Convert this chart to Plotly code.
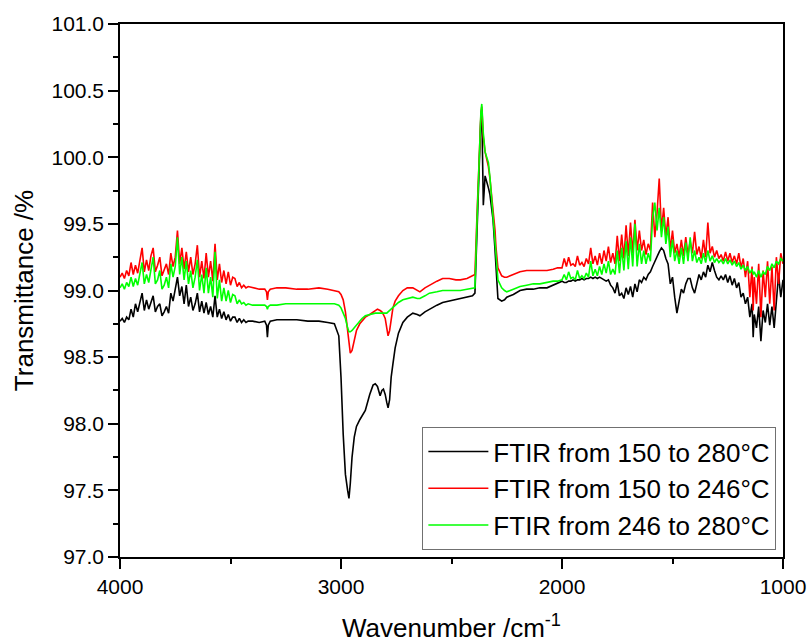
import plotly.graph_objects as go

# Wavenumber grid (cm^-1), shared by the three spectra
WN = [
    4000, 3990, 3980, 3970, 3960, 3950, 3940, 3930, 3920, 3910,
    3900, 3890, 3880, 3870, 3860, 3850, 3840, 3830, 3820, 3810,
    3800, 3790, 3780, 3770, 3760, 3750, 3740, 3730, 3720, 3710,
    3700, 3690, 3680, 3670, 3660, 3650, 3640, 3630, 3620, 3610,
    3600, 3590, 3580, 3570, 3560, 3550, 3540, 3530, 3520, 3510,
    3500, 3490, 3480, 3470, 3460, 3450, 3440, 3430, 3420,
    3400, 3370, 3345, 3337, 3333, 3329, 3320, 3290, 3250, 3200,
    3150, 3100, 3060, 3030,
    3010, 3000, 2990, 2980, 2970, 2964, 2958, 2950, 2940, 2930,
    2915, 2905, 2890, 2870, 2855, 2845, 2835, 2823, 2815, 2808,
    2800, 2793, 2787, 2780, 2773, 2765, 2755, 2740, 2720, 2700,
    2675, 2655, 2643, 2620, 2600, 2566, 2540, 2510, 2480, 2460,
    2430, 2405, 2394, 2385, 2376, 2367, 2363, 2356, 2348, 2340,
    2333, 2326, 2312, 2303, 2299, 2290, 2273, 2260, 2250, 2220,
    2190, 2160, 2130, 2100, 2068, 2040, 2020, 2000,
    1990, 1980, 1970, 1960, 1950, 1940, 1930, 1920, 1910, 1900,
    1890, 1880, 1870, 1860, 1850, 1840, 1830, 1820, 1810, 1800,
    1790, 1780, 1770, 1760, 1750, 1740, 1730, 1720, 1710, 1700,
    1690, 1680, 1670, 1660, 1650, 1640, 1630, 1620, 1610, 1600,
    1590, 1580, 1570, 1560, 1550, 1540, 1530, 1520, 1510, 1500,
    1490, 1480, 1470, 1460, 1450, 1440, 1430, 1420, 1410, 1400,
    1390, 1380, 1370, 1360, 1350, 1340, 1330, 1320, 1310, 1300,
    1290, 1280, 1270, 1260, 1250, 1240, 1230, 1220, 1210, 1200,
    1190, 1180, 1170, 1160, 1150, 1140, 1135, 1130, 1120, 1110,
    1100, 1090, 1080, 1070, 1060, 1050, 1040, 1030, 1020, 1010,
    1000,
]

# FTIR from 150 to 280 °C (black)
T_BLACK = [
    98.77, 98.79, 98.76, 98.80, 98.78, 98.86, 98.80, 98.90, 98.84, 98.92,
    98.98, 98.85, 98.93, 98.86, 98.92, 98.96, 98.84, 98.88, 98.90, 98.81,
    98.84, 98.88, 98.83, 98.98, 98.92, 99.00, 99.10, 98.96, 99.03, 98.90,
    99.04, 98.88, 98.95, 98.85, 98.90, 98.98, 98.84, 98.92, 98.83, 98.91,
    98.82, 98.88, 98.80, 98.96, 98.80, 98.86, 98.79, 98.84, 98.78, 98.82,
    98.77, 98.80, 98.80, 98.76, 98.79, 98.76, 98.78, 98.76, 98.77,
    98.77, 98.76, 98.77, 98.74, 98.65, 98.74, 98.77, 98.78, 98.78, 98.78,
    98.77, 98.77, 98.76, 98.75,
    98.66, 98.35, 97.92, 97.62, 97.50, 97.44, 97.55, 97.75, 97.90, 97.98,
    98.03, 98.06, 98.10, 98.22, 98.29, 98.30, 98.28, 98.21, 98.25, 98.26,
    98.22, 98.16, 98.12, 98.18, 98.35, 98.45, 98.57, 98.68, 98.76, 98.80,
    98.83, 98.82, 98.81, 98.84, 98.86, 98.89, 98.91, 98.92, 98.93, 98.94,
    98.95, 98.96, 98.98, 99.45, 99.95, 100.30, 100.36, 99.64, 99.86, 99.82,
    99.77, 99.72, 99.53, 99.30, 99.18, 98.94, 98.92, 98.93, 98.95, 98.97,
    99.00, 99.01, 99.01, 99.02, 99.02, 99.04, 99.05, 99.07,
    99.06, 99.06, 99.07, 99.07, 99.08, 99.07, 99.08, 99.08, 99.09, 99.08,
    99.09, 99.09, 99.10, 99.09, 99.10, 99.09, 99.10, 99.09, 99.08, 99.07,
    99.08, 99.04, 99.02, 98.98, 99.06, 98.96, 98.98, 98.94, 99.02, 98.97,
    99.03, 98.95, 99.05, 98.99, 99.08, 99.06, 99.10, 99.08, 99.12, 99.14,
    99.18, 99.22, 99.25, 99.29, 99.32, 99.30, 99.24, 99.20, 99.05, 99.10,
    98.95, 98.83, 98.92, 99.01, 98.98, 99.05, 99.09, 99.09, 99.02, 98.98,
    99.05, 99.12, 99.08, 99.14, 99.10, 99.19, 99.14, 99.21, 99.15, 99.10,
    99.08, 99.11, 99.08, 99.12, 99.06, 99.11, 99.04, 99.09, 99.02, 99.06,
    98.95, 98.98, 98.90, 98.95, 98.80, 98.90, 98.65, 98.82, 98.72, 98.88,
    98.62, 98.85, 98.76, 98.90, 98.74, 98.88, 98.72, 98.95, 99.12, 98.95,
    99.08,
]

# FTIR from 150 to 246 °C (red)
T_RED = [
    99.10, 99.13, 99.09, 99.15, 99.11, 99.21, 99.12, 99.19, 99.13, 99.24,
    99.32, 99.14, 99.23, 99.15, 99.26, 99.32, 99.14, 99.19, 99.25, 99.11,
    99.16, 99.20, 99.12, 99.28, 99.18, 99.25, 99.45, 99.20, 99.32, 99.16,
    99.29, 99.14, 99.25, 99.12, 99.20, 99.34, 99.10, 99.22, 99.09, 99.28,
    99.10, 99.22, 99.07, 99.35, 99.08, 99.20, 99.06, 99.15, 99.05, 99.14,
    99.04, 99.10, 99.09, 99.03, 99.06, 99.02, 99.04, 99.02, 99.03,
    99.02, 99.01, 99.01, 98.99, 98.93, 98.99, 99.01, 99.02, 99.02, 99.01,
    99.01, 99.02, 99.01, 99.00,
    98.99, 98.97, 98.93, 98.84, 98.68, 98.58, 98.53, 98.55, 98.62, 98.70,
    98.75, 98.77, 98.80, 98.82, 98.84, 98.85, 98.86, 98.85, 98.84, 98.82,
    98.79, 98.72, 98.66, 98.70, 98.80, 98.87, 98.92, 98.96, 99.00, 99.02,
    99.02, 99.00, 98.99, 99.02, 99.04, 99.07, 99.09, 99.09, 99.08, 99.08,
    99.09, 99.11, 99.12, 99.55, 100.00, 100.32, 100.38, 100.15, 100.04, 99.98,
    99.93, 99.84, 99.62, 99.45, 99.33, 99.17, 99.11, 99.10, 99.10, 99.12,
    99.14, 99.15, 99.15, 99.15, 99.15, 99.16, 99.17, 99.17,
    99.24, 99.18, 99.25, 99.19, 99.20, 99.18, 99.26, 99.19, 99.21, 99.18,
    99.24, 99.20, 99.32, 99.20, 99.26, 99.19, 99.28, 99.20, 99.30, 99.22,
    99.33, 99.21, 99.28, 99.20, 99.41, 99.22, 99.42, 99.24, 99.49, 99.26,
    99.51, 99.28, 99.53, 99.30, 99.45, 99.30, 99.38, 99.27, 99.35, 99.30,
    99.66, 99.40, 99.58, 99.84, 99.45, 99.62, 99.40, 99.55, 99.30, 99.45,
    99.28, 99.35, 99.25, 99.38, 99.26, 99.40, 99.27, 99.37, 99.28, 99.44,
    99.27, 99.33, 99.24, 99.38, 99.25, 99.51, 99.28, 99.33, 99.25, 99.30,
    99.24, 99.27, 99.22, 99.29, 99.22, 99.28, 99.21, 99.26, 99.20, 99.28,
    99.17, 99.24, 99.10, 99.22, 98.95, 99.18, 98.85, 99.10, 98.90, 99.20,
    98.80, 99.15, 98.95, 99.22, 98.90, 99.18, 98.85, 99.25, 99.05, 99.28,
    99.20,
]

# FTIR from 246 to 280 °C (green)
T_GREEN = [
    99.02, 99.05, 99.01, 99.06, 99.03, 99.10, 99.03, 99.09, 99.04, 99.14,
    99.21, 99.05, 99.12, 99.06, 99.16, 99.25, 99.05, 99.08, 99.15, 99.01,
    99.04, 99.10, 99.02, 99.20, 99.10, 99.18, 99.40, 99.12, 99.25, 99.08,
    99.22, 99.05, 99.15, 99.02, 99.10, 99.23, 99.00, 99.12, 98.98, 99.17,
    98.98, 99.10, 98.95, 99.29, 98.94, 99.08, 98.92, 99.02, 98.92, 99.00,
    98.91, 98.97, 98.96, 98.90, 98.93, 98.90, 98.91, 98.89, 98.90,
    98.89, 98.89, 98.89, 98.88, 98.86, 98.88, 98.89, 98.89, 98.90, 98.90,
    98.90, 98.90, 98.90, 98.90,
    98.89, 98.87, 98.83, 98.79, 98.72, 98.69, 98.69, 98.70, 98.72, 98.74,
    98.77, 98.79, 98.81, 98.82, 98.83, 98.83, 98.83, 98.83, 98.83, 98.83,
    98.83, 98.83, 98.84, 98.85, 98.86, 98.87, 98.89, 98.91, 98.93, 98.94,
    98.95, 98.94, 98.94, 98.96, 98.98, 98.99, 99.00, 99.00, 99.00, 99.00,
    99.01, 99.02, 99.02, 99.50, 99.98, 100.34, 100.40, 100.18, 100.04, 100.00,
    99.96, 99.85, 99.58, 99.40, 99.28, 99.08, 99.02, 99.00, 98.99, 99.01,
    99.03, 99.04, 99.05, 99.05, 99.06, 99.07, 99.07, 99.08,
    99.12, 99.08, 99.14, 99.09, 99.10, 99.08, 99.15, 99.09, 99.11, 99.09,
    99.13, 99.10, 99.22, 99.11, 99.16, 99.11, 99.18, 99.12, 99.20, 99.13,
    99.22, 99.12, 99.16, 99.12, 99.30, 99.13, 99.32, 99.15, 99.37, 99.16,
    99.40, 99.18, 99.50, 99.18, 99.35, 99.20, 99.30, 99.20, 99.28, 99.22,
    99.55, 99.66, 99.45, 99.62, 99.40, 99.55, 99.35, 99.48, 99.25, 99.38,
    99.22, 99.30, 99.20, 99.32, 99.20, 99.36, 99.22, 99.40, 99.22, 99.30,
    99.21, 99.25, 99.20, 99.28, 99.21, 99.30, 99.22, 99.26, 99.21, 99.24,
    99.21, 99.23, 99.20, 99.24, 99.20, 99.23, 99.19, 99.22, 99.18, 99.21,
    99.16, 99.19, 99.15, 99.18, 99.13, 99.16, 99.12, 99.14, 99.10, 99.15,
    99.10, 99.14, 99.12, 99.18, 99.15, 99.20, 99.17, 99.22, 99.20, 99.24,
    99.22,
]

SERIES = [
    ("FTIR from 150 to 280°C", T_BLACK, "#000000"),
    ("FTIR from 150 to 246°C", T_RED, "#FF0000"),
    ("FTIR from 246 to 280°C", T_GREEN, "#00FF00"),
]

X_TICKS = [4000, 3000, 2000, 1000]
Y_TICKS = [97.0, 97.5, 98.0, 98.5, 99.0, 99.5, 100.0, 100.5, 101.0]

FONT = "Liberation Sans, Arial, sans-serif"

fig = go.Figure()
for name, vals, color in SERIES:
    fig.add_trace(go.Scatter(
        x=WN, y=vals, mode="lines", name=name,
        line=dict(color=color, width=1.6),
    ))

axis_common = dict(
    showline=True, linecolor="black", linewidth=1.5, mirror=True,
    ticks="outside", ticklen=10, tickwidth=1.5, tickcolor="black",
    showgrid=False, zeroline=False, automargin=False,
    tickfont=dict(family=FONT, size=21, color="black"),
)

fig.update_xaxes(
    range=[4000, 1000], tickmode="array", tickvals=X_TICKS,
    ticktext=[str(v) for v in X_TICKS],
    minor=dict(dtick=500, ticks="outside", ticklen=5, tickwidth=1.5, tickcolor="black"),
    title=dict(text="Wavenumber /cm<sup>-1</sup>", font=dict(family=FONT, size=26, color="black"), standoff=22),
    **axis_common,
)
fig.update_yaxes(
    range=[97, 101], tickmode="array", tickvals=Y_TICKS,
    ticktext=[f"{v:.1f}" for v in Y_TICKS],
    minor=dict(dtick=0.25, ticks="outside", ticklen=5, tickwidth=1.5, tickcolor="black"),
    title=dict(text="Transmittance /%", font=dict(family=FONT, size=26, color="black"), standoff=10),
    **axis_common,
)

fig.update_layout(
    width=810, height=643,
    margin=dict(l=120, r=27, t=24, b=86, autoexpand=False),
    plot_bgcolor="white", paper_bgcolor="white",
    font=dict(family=FONT, color="black"),
    legend=dict(
        x=0.99, y=0.013, xanchor="right", yanchor="bottom",
        bgcolor="white", bordercolor="#707070", borderwidth=1,
        font=dict(family=FONT, size=26, color="black"),
        tracegroupgap=0, itemwidth=60,
    ),
    showlegend=True,
)

fig.write_html("out.html")
